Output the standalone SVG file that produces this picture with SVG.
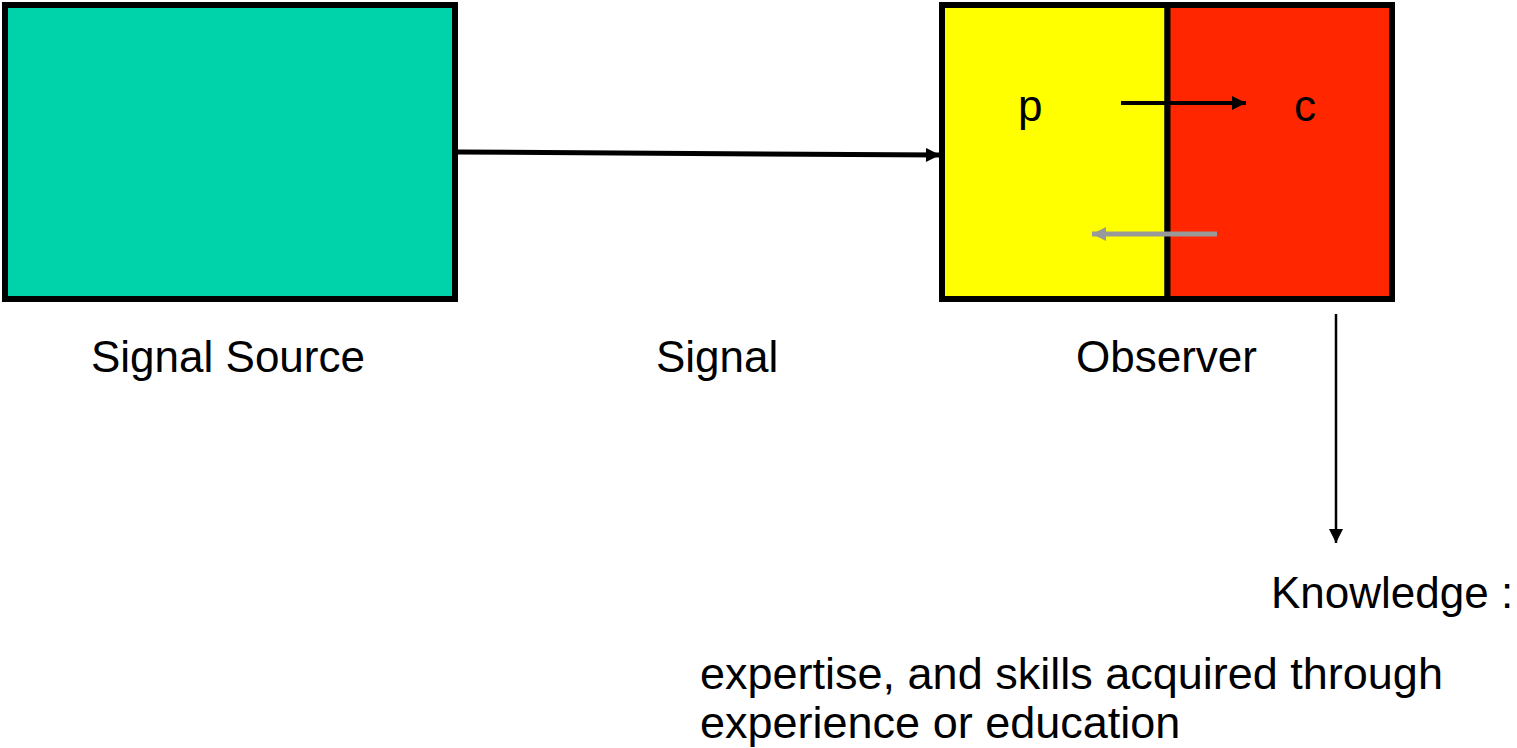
<svg xmlns="http://www.w3.org/2000/svg" width="1517" height="748" viewBox="0 0 1517 748">
<style>
text{font-family:"Liberation Sans",Arial,sans-serif;font-size:44px;fill:#000}
text.body{font-size:45px}
.box{stroke:#000;stroke-width:6}
.conn{fill:none;stroke:#000}
</style>
<defs>
<marker id="ah" viewBox="0 0 10 10" refX="10" refY="5" markerWidth="15" markerHeight="14" markerUnits="userSpaceOnUse" orient="auto"><path d="M0,0L10,5L0,10z" fill="#000"/></marker>
<marker id="ahg" viewBox="0 0 10 10" refX="10" refY="5" markerWidth="15" markerHeight="14" markerUnits="userSpaceOnUse" orient="auto"><path d="M0,0L10,5L0,10z" fill="#999"/></marker>
<marker id="ahs" viewBox="0 0 10 10" refX="10" refY="5" markerWidth="14" markerHeight="15" markerUnits="userSpaceOnUse" orient="auto"><path d="M0,0L10,5L0,10z" fill="#000"/></marker>
</defs>
<g id="source">
<rect class="box" x="5" y="5" width="450" height="294" fill="#00D2AA"/>
<text x="91" y="372">Signal Source</text>
</g>
<g id="observer">
<rect class="box" x="942" y="5" width="225.5" height="294" fill="#FFFF00"/>
<rect class="box" x="1167.5" y="5" width="224.5" height="294" fill="#FF2600"/>
<text x="1076" y="372">Observer</text>
</g>
<g id="p"><text x="1018" y="121">p</text></g>
<g id="c"><text x="1294" y="121">c</text></g>
<g id="signal-label"><text x="656" y="372">Signal</text></g>
<g id="knowledge">
<text x="1271" y="608">Knowledge :</text>
<text class="body" x="700" y="689">expertise, and skills acquired through</text>
<text class="body" x="700" y="738">experience or education</text>
</g>
<g id="connectors">
<line class="conn" x1="458" y1="152" x2="940" y2="155" stroke-width="5" marker-end="url(#ah)"/>
<line class="conn" x1="1121" y1="103" x2="1246" y2="103" stroke-width="4" marker-end="url(#ah)"/>
<line class="conn" x1="1217" y1="234" x2="1092" y2="234" stroke-width="5" marker-end="url(#ahg)" style="stroke:#999"/>
<line class="conn" x1="1336" y1="314" x2="1336" y2="543" stroke-width="2.5" marker-end="url(#ahs)"/>
</g>
</svg>
